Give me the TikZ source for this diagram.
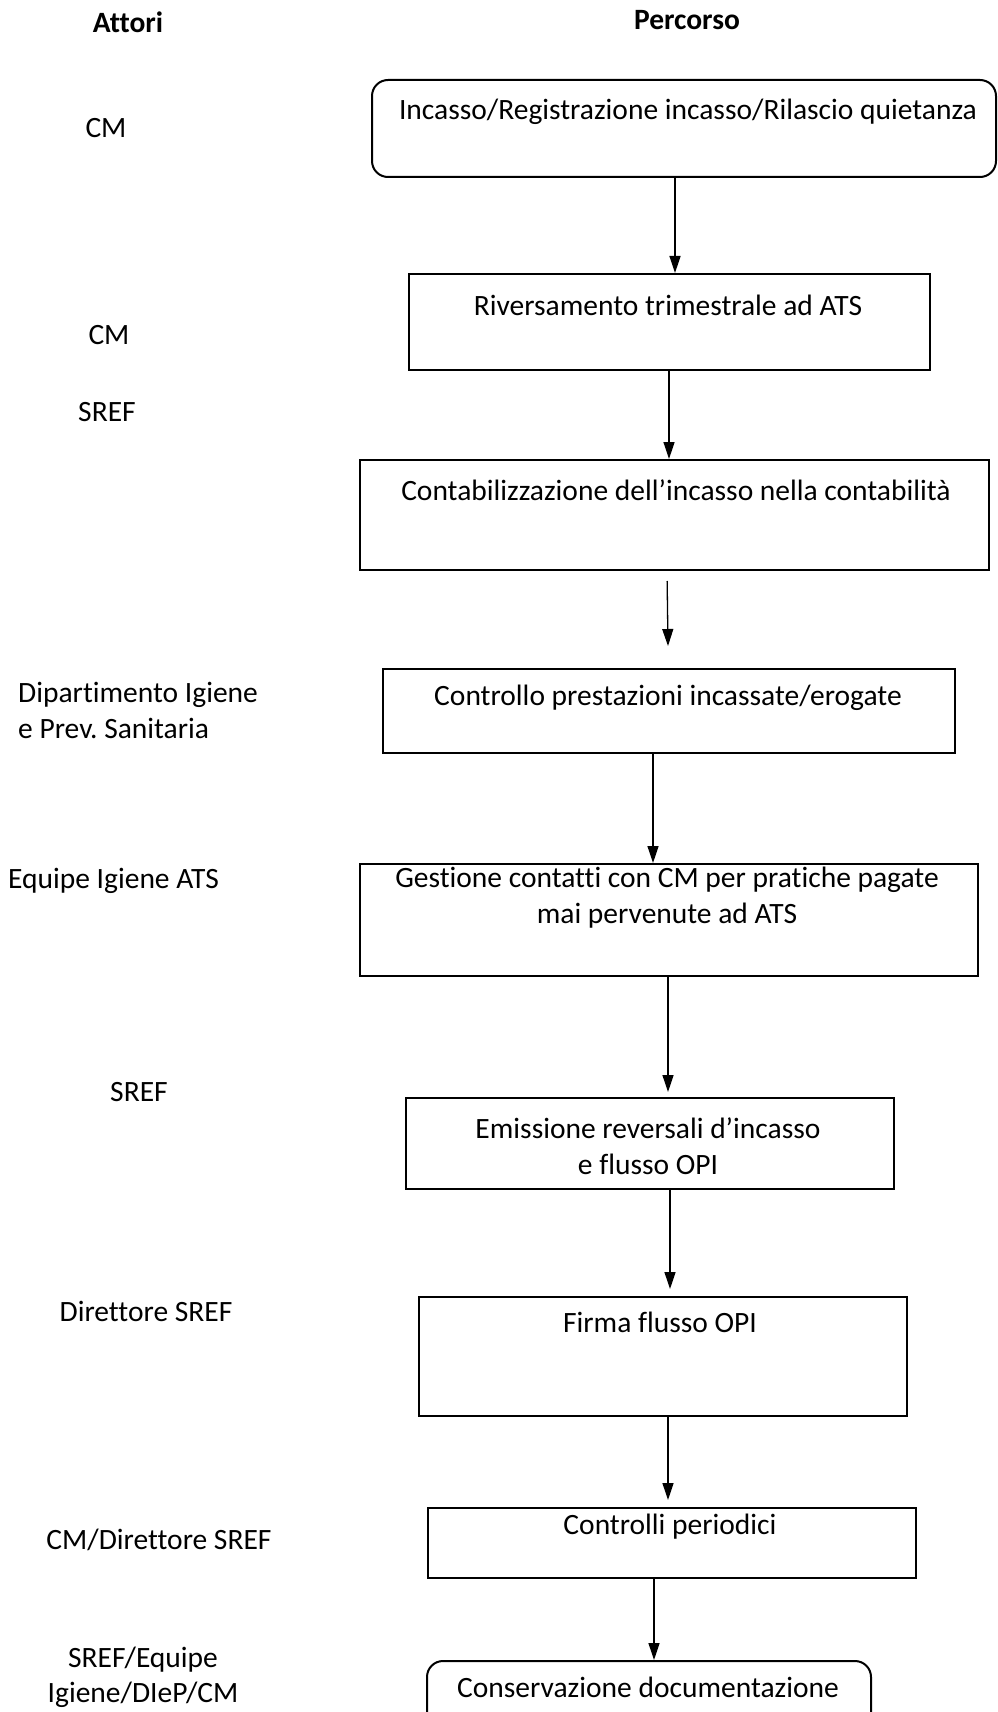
\documentclass[tikz,border=0pt]{standalone}
\usepackage{fontspec}
\setmainfont{Carlito}[Ligatures=NoCommon]
\usetikzlibrary{arrows.meta}
\frenchspacing
\tikzset{
  stepbox/.style={draw, line width=2pt, rectangle, anchor=north west, inner sep=0pt},
  roundbox/.style={stepbox, rounded corners=16pt},
  txt/.style={font=\fontsize{29.5}{36}\selectfont, inner sep=0pt, align=center},
  head/.style={font=\bfseries\fontsize{29.5}{36}\selectfont, inner sep=0pt},
  arr/.style={line width=1.3pt, -{Triangle[length=17pt,width=11pt]}}
}
\begin{document}
\begin{tikzpicture}[x=1pt,y=-1pt]
\clip (0,0) rectangle (997,1712);
\fill[white] (0,0) rectangle (997,1712);

% column headings
\node[head] (hA) at (128,22) {Attori};
\node[head] (hP) at (687,20) {Percorso};

% actors
\node[txt] (a1) at (106,128) {CM};
\node[txt] (a2) at (109,335) {CM};
\node[txt] (a3) at (107,412) {SREF};
\node[txt, align=left, anchor=west] (a4) at (18,710) {Dipartimento Igiene\\e Prev. Sanitaria};
\node[txt, anchor=west] (a5) at (8,881) {Equipe Igiene ATS};
\node[txt] (a6) at (139,1092) {SREF};
\node[txt] (a7) at (146,1311) {Direttore SREF};
\node[txt] (a8) at (159,1540) {CM/Direttore SREF};
\node[txt, font=\fontsize{29.5}{35}\selectfont] (a9) at (143,1677) {SREF/Equipe\\Igiene/DIeP/CM};

% process boxes
\node[roundbox, minimum width=624pt, minimum height=97pt] (b1) at (371,79) {};
\node[stepbox, minimum width=521pt, minimum height=96pt] (b2) at (408,273) {};
\node[stepbox, minimum width=629pt, minimum height=110pt] (b3) at (359,459) {};
\node[stepbox, minimum width=572pt, minimum height=84pt] (b4) at (382,668) {};
\node[stepbox, minimum width=618pt, minimum height=112pt] (b5) at (359,863) {};
\node[stepbox, minimum width=488pt, minimum height=91pt] (b6) at (405,1097) {};
\node[stepbox, minimum width=488pt, minimum height=119pt] (b7) at (418,1296) {};
\node[stepbox, minimum width=488pt, minimum height=70pt] (b8) at (427,1507) {};
\node[roundbox, minimum width=444pt, minimum height=90pt] (b9) at (426,1660) {};

% box texts
\node[txt] (t1) at (688,112) {Incasso/Registrazione incasso/Rilascio quietanza};
\node[txt] (t2) at (668,305) {Riversamento trimestrale ad ATS};
\node[txt] (t3) at (676,490) {Contabilizzazione dell’incasso nella contabilità};
\node[txt] (t4) at (668,698) {Controllo prestazioni incassate/erogate};
\node[txt] (t5) at (667,898) {Gestione contatti con CM per pratiche pagate\\mai pervenute ad ATS};
\node[txt] (t6) at (648,1146) {Emissione reversali d’incasso\\e flusso OPI};
\node[txt] (t7) at (660,1322) {Firma flusso OPI};
\node[txt] (t8) at (670,1527) {Controlli periodici};
\node[txt] (t9) at (648,1687) {Conservazione documentazione};

% connectors
\draw[arr] (b1.south -| 675,0) -- (b2.north -| 675,0);
\draw[arr] (b2.south -| 669,0) -- (b3.north -| 669,0);
\draw[arr, shorten <=10pt] (b3.south -| 667,0) -- ([yshift=22pt]b4.north -| 668,0);
\draw[arr] (b4.south -| 653,0) -- (b5.north -| 653,0);
\draw[arr] (b5.south -| 668,0) -- ([yshift=5pt]b6.north -| 668,0);
\draw[arr] (b6.south -| 670,0) -- ([yshift=7pt]b7.north -| 670,0);
\draw[arr] (b7.south -| 668,0) -- ([yshift=7pt]b8.north -| 668,0);
\draw[arr] (b8.south -| 654,0) -- (b9.north -| 654,0);
\end{tikzpicture}
\end{document}
